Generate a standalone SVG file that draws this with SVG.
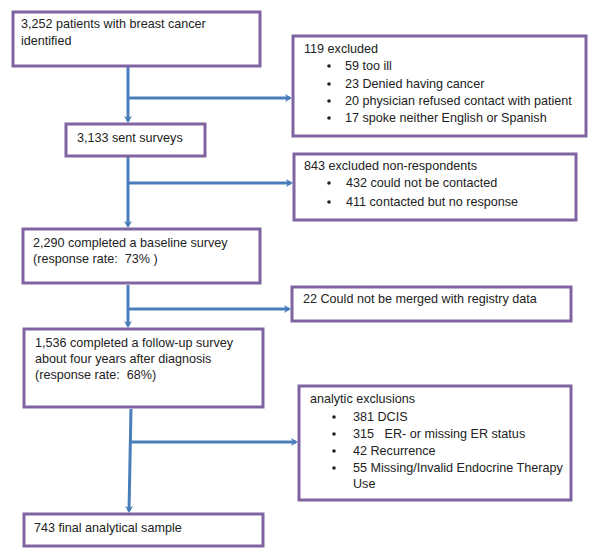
<svg xmlns="http://www.w3.org/2000/svg" width="601" height="559" viewBox="0 0 601 559">
<style>
.box{fill:#fff;stroke:#8064A2;stroke-width:3}
.t{font-family:"Liberation Sans",Arial,sans-serif;font-size:12.6px;fill:#222;white-space:pre}
.c{fill:none;stroke:#4A7EBB;stroke-width:3}
</style>
<defs>
<marker id="ah" markerWidth="9" markerHeight="9" refX="5" refY="4.5" orient="auto" markerUnits="userSpaceOnUse">
<path d="M0,0.5 L7,4.5 L0,8.5 L2,4.5 Z" fill="#4A7EBB"/>
</marker>
</defs>
<rect width="601" height="559" fill="#fff"/>
<g id="connectors">
<path class="c" d="M128,67 V121" marker-end="url(#ah)"/>
<path class="c" d="M128,98 H290" marker-end="url(#ah)"/>
<path class="c" d="M128,157 V226" marker-end="url(#ah)"/>
<path class="c" d="M128,183 H291" marker-end="url(#ah)"/>
<path class="c" d="M128,285 V326" marker-end="url(#ah)"/>
<path class="c" d="M128,309 H289" marker-end="url(#ah)"/>
<path class="c" d="M131,409 L129,511" marker-end="url(#ah)"/>
<path class="c" d="M131,442 H296" marker-end="url(#ah)"/>
</g>
<g id="n1"><rect class="box" x="13" y="12" width="247" height="54"/>
<text class="t" x="21" y="28">3,252 patients with breast cancer</text>
<text class="t" x="21" y="45">identified</text></g>
<g id="n2"><rect class="box" x="66" y="124" width="139" height="32"/>
<text class="t" x="77" y="142">3,133 sent surveys</text></g>
<g id="n3"><rect class="box" x="293" y="36" width="293" height="100"/>
<text class="t" x="304" y="53">119 excluded</text>
<g class="t"><circle cx="329" cy="66" r="1.8"/><circle cx="329" cy="84" r="1.8"/><circle cx="329" cy="101" r="1.8"/><circle cx="329" cy="118" r="1.8"/></g>
<text class="t" x="345" y="70">59 too ill</text>
<text class="t" x="345" y="88">23 Denied having cancer</text>
<text class="t" x="345" y="105">20 physician refused contact with patient</text>
<text class="t" x="345" y="122">17 spoke neither English or Spanish</text></g>
<g id="n4"><rect class="box" x="294" y="154" width="282" height="66"/>
<text class="t" x="304" y="170">843 excluded non-respondents</text>
<g class="t"><circle cx="329" cy="183" r="1.8"/><circle cx="329" cy="202" r="1.8"/></g>
<text class="t" x="346" y="187">432 could not be contacted</text>
<text class="t" x="346" y="206">411 contacted but no response</text></g>
<g id="n5"><rect class="box" x="23" y="229" width="237" height="54"/>
<text class="t" x="33" y="247">2,290 completed a baseline survey</text>
<text class="t" x="33" y="263">(response rate:  73% )</text></g>
<g id="n6"><rect class="box" x="292" y="287" width="279" height="34"/>
<text class="t" x="303" y="303">22 Could not be merged with registry data</text></g>
<g id="n7"><rect class="box" x="24" y="329" width="239" height="78"/>
<text class="t" x="35" y="347">1,536 completed a follow-up survey</text>
<text class="t" x="35" y="363">about four years after diagnosis</text>
<text class="t" x="35" y="379">(response rate:  68%)</text></g>
<g id="n8"><rect class="box" x="299" y="386" width="272" height="114"/>
<text class="t" x="310" y="403">analytic exclusions</text>
<g class="t"><circle cx="334" cy="417" r="1.8"/><circle cx="334" cy="434" r="1.8"/><circle cx="334" cy="451" r="1.8"/><circle cx="334" cy="468" r="1.8"/></g>
<text class="t" x="353" y="421">381 DCIS</text>
<text class="t" x="353" y="438">315   ER- or missing ER status</text>
<text class="t" x="353" y="455">42 Recurrence</text>
<text class="t" x="353" y="472">55 Missing/Invalid Endocrine Therapy</text>
<text class="t" x="353" y="488">Use</text></g>
<g id="n9"><rect class="box" x="24" y="514" width="239" height="32"/>
<text class="t" x="34" y="532">743 final analytical sample</text></g>
</svg>
